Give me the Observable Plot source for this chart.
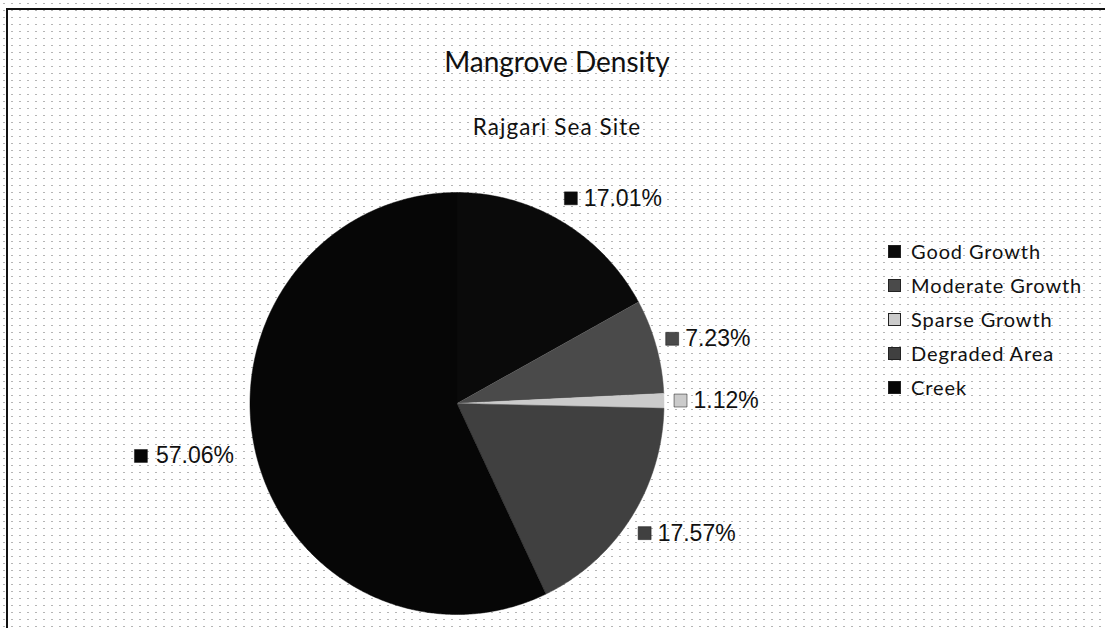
<!DOCTYPE html>
<html><head><meta charset="utf-8">
<script src="https://cdn.jsdelivr.net/npm/d3@7"></script>
<script src="https://cdn.jsdelivr.net/npm/@observablehq/plot@0.6"></script>
<style>
html,body{margin:0;padding:0;overflow:hidden;}
body{width:1105px;height:628px;position:relative;overflow:hidden;background:#fff;
 background-image:radial-gradient(circle, rgba(120,120,120,0.55) 0.6px, transparent 1.1px);background-size:8px 7px;}
#frame{position:absolute;left:6px;top:8px;right:0;bottom:0;border-left:2px solid #111;border-top:2px solid #111;}
#chart{position:absolute;left:0;top:0;}
.ttl{position:absolute;left:257px;width:600px;text-align:center;font-family:Lato,"Noto Sans",sans-serif;color:#111;white-space:nowrap;line-height:1;}
#title{top:47px;font-size:28px;}
#subtitle{top:116px;font-size:22.5px;letter-spacing:1.1px;}
#legend{position:absolute;left:888px;top:234px;font-family:Lato,"Noto Sans",sans-serif;font-size:20px;color:#111;letter-spacing:0.9px;}
#legend .row{height:34px;line-height:34px;display:flex;align-items:center;white-space:nowrap;}
#legend .sw{width:13px;height:13px;margin-right:10px;flex:none;box-sizing:border-box;}
</style>
</head><body>
<div id="frame"></div>
<div id="chart"></div>
<div class="ttl" id="title">Mangrove Density</div>
<div class="ttl" id="subtitle">Rajgari Sea Site</div>
<div id="legend"></div>
<script>
const categories = ["Good Growth", "Moderate Growth", "Sparse Growth", "Degraded Area", "Creek"];
const percents = [17.01, 7.23, 1.12, 17.57, 57.06];
const labels = ["17.01%", "7.23%", "1.12%", "17.57%", "57.06%"];
const colors = ["#0a0a0a", "#4a4a4a", "#cbcbcb", "#404040", "#060606"];

const arcs = d3.pie().sort(null).value(d => d)(percents);
const slicePts = [];
arcs.forEach((a, i) => {
  const cat = categories[i];
  slicePts.push({cat, x: 0, y: 0});
  const n = Math.max(2, Math.ceil((a.endAngle - a.startAngle) / (Math.PI / 360)));
  for (let k = 0; k <= n; k++) {
    const t = a.startAngle + (a.endAngle - a.startAngle) * k / n;
    slicePts.push({cat, x: Math.sin(t), y: Math.cos(t)});
  }
});

const W = 1105, H = 628;
const mL = 249.5, mR = W - 663.5, mT = 192, mB = H - 614;
const pxPerX = (W - mL - mR) / 2;
const fontSize = 23;
const labelFamily = "'Liberation Sans', Arial, sans-serif";
const ctx = document.createElement("canvas").getContext("2d");
ctx.font = fontSize + "px " + labelFamily;

const labelRx = 1.08, labelRy = 1.13;
const labelPts = arcs.map((a, i) => {
  const m = (a.startAngle + a.endAngle) / 2;
  const x = labelRx * Math.sin(m), y = labelRy * Math.cos(m);
  const right = Math.sin(m) >= 0;
  const w = ctx.measureText(labels[i]).width;
  return {cat: categories[i], label: labels[i], x, y, right,
          sx: right ? x : x - (w + 20) / pxPerX};
});

const plot = Plot.plot({
  width: W, height: H,
  marginLeft: mL, marginRight: mR, marginTop: mT, marginBottom: mB,
  x: {domain: [-1, 1], axis: null},
  y: {domain: [-1, 1], axis: null},
  color: {domain: categories, range: colors},
  style: {background: "transparent", overflow: "visible"},
  marks: [
    Plot.line(slicePts, {x: "x", y: "y", z: "cat", fill: "cat", stroke: "cat", strokeWidth: 0.5, curve: "linear"}),
    Plot.dot(labelPts, {x: "sx", y: "y", symbol: "square", r: 7.3, fill: "cat", stroke: "#111", strokeWidth: 0.5}),
    Plot.text(labelPts.filter(d => d.right), {x: "x", y: "y", text: "label", textAnchor: "start", dx: 13, fontSize, fontFamily: labelFamily, fill: "#111"}),
    Plot.text(labelPts.filter(d => !d.right), {x: "x", y: "y", text: "label", textAnchor: "end", dx: -5, fontSize, fontFamily: labelFamily, fill: "#111"})
  ]
});
document.getElementById("chart").appendChild(plot);

const color = plot.scale("color");
const legend = d3.select("#legend");
categories.forEach(c => {
  const row = legend.append("div").attr("class", "row");
  row.append("div").attr("class", "sw").style("background", color.apply(c)).style("border", "0.5px solid #222");
  row.append("span").text(c);
});
</script>
</body></html>
